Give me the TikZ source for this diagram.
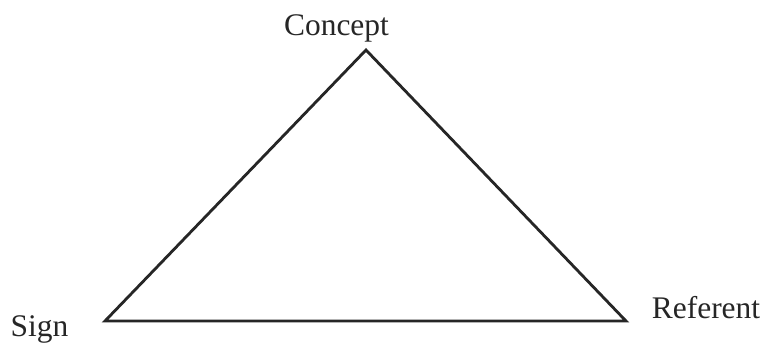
\documentclass[tikz,border=0pt]{standalone}
\usepackage{fontspec}
\setmainfont{Liberation Serif}
\usepackage{tikz}
\usetikzlibrary{positioning}

\begin{document}
\begin{tikzpicture}[
    x=0.02cm, y=-0.02cm,
    label/.style={inner sep=0pt, anchor=base, text=black!85, font=\fontsize{17.9}{20}\selectfont},
    edge/.style={line width=1.6pt, draw=black!85, line join=miter}
]
    \useasboundingbox (0,0) rectangle (764,343);

    \coordinate (top)   at (366,50);
    \coordinate (left)  at (105,321);
    \coordinate (right) at (626,321);

    \node (concept)  [label] at (336.5,35) {Concept};
    \node (sign)     [label] at (39.5,336) {Sign};
    \node (referent) [label] at (706,318) {Referent};

    \draw [edge] (left) -- (top) -- (right) -- cycle;
\end{tikzpicture}
\end{document}
